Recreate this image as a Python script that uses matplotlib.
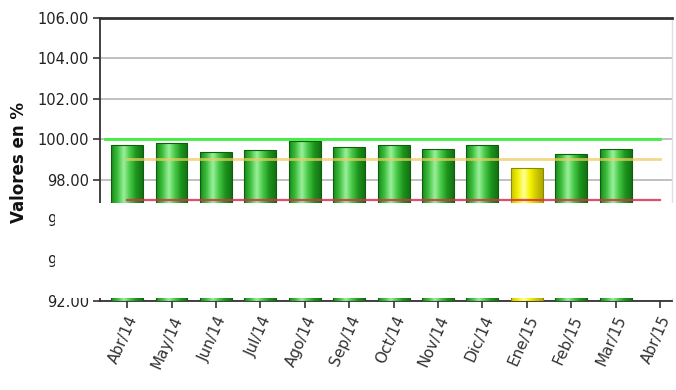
import numpy as np
import matplotlib
matplotlib.use("Agg")
import matplotlib.pyplot as plt
from matplotlib.colors import LinearSegmentedColormap
from matplotlib.patches import Rectangle

meses = ["Abr/14", "May/14", "Jun/14", "Jul/14", "Ago/14", "Sep/14", "Oct/14",
         "Nov/14", "Dic/14", "Ene/15", "Feb/15", "Mar/15", "Abr/15"]
valores = [99.70, 99.80, 99.35, 99.45, 99.90, 99.62, 99.70, 99.52, 99.70,
           98.56, 99.26, 99.52]
meta = 100.0
tolerancia = 99.0
minimo = 97.0
base = 92.0

verde = LinearSegmentedColormap.from_list(
    "verde", ["#178a17", "#3fbf3f", "#9af09a", "#45c845", "#1c931c", "#137313"])
amarillo = LinearSegmentedColormap.from_list(
    "amarillo", ["#c9c400", "#f2f000", "#ffff9a", "#f5f200", "#cfc900", "#b0a800"])

fig = plt.figure(figsize=(6.76, 3.9), dpi=100)
ax = fig.add_axes([100 / 676, 1 - 301 / 390, 572 / 676, 283 / 390])

x = np.arange(len(meses))
ancho = 0.72
grad = np.linspace(0, 1, 64).reshape(1, -1)
for i, v in enumerate(valores):
    cmap = amarillo if v < tolerancia else verde
    borde = "#8a8a00" if v < tolerancia else "#0e5e0e"
    barra = ax.bar(x[i], v - base, bottom=base, width=ancho, color="none",
                   edgecolor=borde, linewidth=0.8, zorder=3)[0]
    im = ax.imshow(grad, cmap=cmap, aspect="auto", zorder=2.9,
                   extent=[x[i] - ancho / 2, x[i] + ancho / 2, base, v])
    im.set_clip_path(barra)

# referencias de cumplimiento
ax.plot([-0.5, 12], [meta, meta], color="#3ff03f", lw=2, zorder=4)
ax.plot([0, 12], [tolerancia, tolerancia], color="#f0cc60", lw=2, alpha=0.75, zorder=4)
ax.plot([0, 12], [minimo, minimo], color="#d83050", lw=1.6, alpha=0.85, zorder=4)

ax.set_xlim(-0.61, 12.27)
ax.set_ylim(92, 106)
ax.set_yticks(np.arange(92, 106.1, 2))
ax.set_yticklabels([f"{t:.2f}" for t in np.arange(92, 106.1, 2)],
                   fontsize=10.5, color="#222222")
ax.set_xticks(x)
ax.set_xticklabels(meses, rotation=66, ha="right", rotation_mode="anchor",
                   fontsize=11, color="#333333")
ax.yaxis.grid(True, color="#b5b5b5", lw=1.2, zorder=0)
ax.set_axisbelow(True)
ax.tick_params(axis="both", length=5, width=1.2, color="#333333")
ax.tick_params(axis="y", pad=3)
ax.tick_params(axis="x", pad=4)

for lado in ["left", "bottom"]:
    ax.spines[lado].set_color("#333333")
    ax.spines[lado].set_linewidth(1.3)
ax.spines["top"].set_color("#333333")
ax.spines["top"].set_linewidth(2)
ax.spines["right"].set_color("#e0e0e0")
ax.spines["right"].set_linewidth(1)

fig.text(19 / 676, 1 - 162 / 390, "Valores en %", rotation=90, ha="center",
         va="center", fontsize=12, fontweight="bold", color="#111111")

# franja sin dibujar
fig.add_artist(Rectangle((55 / 676, 1 - 298 / 390), 1, 95 / 390,
                         transform=fig.transFigure, facecolor="white",
                         edgecolor="none", zorder=10))

fig.savefig("out.png", dpi=100)
